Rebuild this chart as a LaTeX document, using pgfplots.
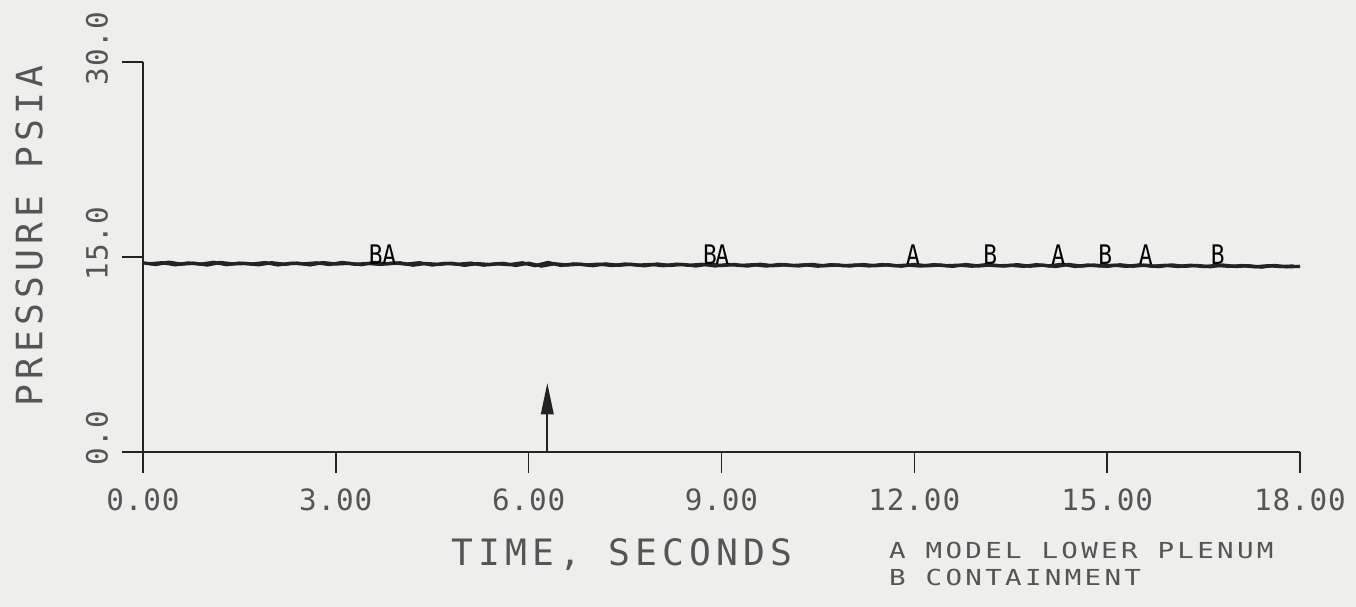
\documentclass[border=0pt]{standalone}
\usepackage{fontspec}
\usepackage{pgfplots}
\pgfplotsset{compat=1.18}
\usetikzlibrary{arrows.meta}
\newfontfamily\monofont[LetterSpace=3]{DejaVu Sans Mono}
\newfontfamily\curvefont[FakeStretch=0.85]{DejaVu Sans Mono}
\newfontfamily\labfont[LetterSpace=14]{DejaVu Sans Mono}
\newfontfamily\legfont[LetterSpace=15, FakeStretch=1.25]{DejaVu Sans Mono}
\definecolor{paper}{RGB}{238,238,236}
\definecolor{ink}{RGB}{35,35,35}
\definecolor{txt}{RGB}{85,85,85}

\begin{document}
\begin{tikzpicture}
% paper background, fixes the picture size (1px = 0.015cm)
\path[fill=paper, use as bounding box] (-2.145,-2.325) rectangle (18.195,6.78);
\begin{axis}[
  at={(0,0)}, anchor=south west,
  scale only axis, width=17.355cm, height=5.85cm,
  xmin=0, xmax=18, ymin=0, ymax=30,
  axis lines*=left, axis line style={ink, line width=0.7pt},
  tick style={ink, line width=0.7pt}, tick align=outside, major tick length=0.31cm,
  xtick={0,3,6,9,12,15,18}, ytick={0,15,30},
  /pgf/number format/assume math mode=true,
  xticklabel style={/pgf/number format/fixed, /pgf/number format/fixed zerofill,
    /pgf/number format/precision=2, anchor=north, yshift=-0.12cm},
  yticklabel style={/pgf/number format/fixed, /pgf/number format/fixed zerofill,
    /pgf/number format/precision=1, rotate=90, anchor=south, xshift=0.2cm, yshift=0.09cm},
  tick label style={font=\monofont\fontsize{12.5}{15}\selectfont, text=txt},
  clip=false,
]
% model lower plenum
\addplot[ink, line width=1.4pt] coordinates {
(0.0,14.55)(0.2,14.42)(0.4,14.60)(0.6,14.45)(0.8,14.52)(1.0,14.38)(1.2,14.58)(1.4,14.47)(1.6,14.50)(1.8,14.40)
(2.0,14.56)(2.2,14.44)(2.4,14.53)(2.6,14.39)(2.8,14.57)(3.0,14.46)(3.2,14.51)(3.4,14.41)(3.6,14.58)(3.8,14.47)
(4.0,14.55)(4.2,14.37)(4.4,14.50)(4.6,14.43)(4.8,14.52)(5.0,14.36)(5.2,14.49)(5.4,14.42)(5.6,14.51)(5.8,14.35)
(6.0,14.52)(6.2,14.30)(6.4,14.48)(6.6,14.38)(6.8,14.45)(7.0,14.33)(7.2,14.47)(7.4,14.36)(7.6,14.44)(7.8,14.32)
(8.0,14.46)(8.2,14.35)(8.4,14.43)(8.6,14.31)(8.8,14.45)(9.0,14.34)(9.2,14.42)(9.4,14.30)(9.6,14.44)(9.8,14.33)
(10.0,14.40)(10.2,14.31)(10.4,14.43)(10.6,14.32)(10.8,14.39)(11.0,14.30)(11.2,14.42)(11.4,14.33)(11.6,14.40)(11.8,14.29)
(12.0,14.43)(12.2,14.32)(12.4,14.38)(12.6,14.28)(12.8,14.42)(13.0,14.31)(13.2,14.39)(13.4,14.30)(13.6,14.41)(13.8,14.29)
(14.0,14.37)(14.2,14.27)(14.4,14.42)(14.6,14.30)(14.8,14.38)(15.0,14.28)(15.2,14.40)(15.4,14.29)(15.6,14.37)(15.8,14.26)
(16.0,14.39)(16.2,14.28)(16.4,14.35)(16.6,14.25)(16.8,14.38)(17.0,14.27)(17.2,14.33)(17.4,14.22)(17.6,14.35)(17.8,14.24)
(18.0,14.28)};
% containment
\addplot[ink, line width=1.4pt] coordinates {
(0.1,14.48)(0.3,14.56)(0.5,14.40)(0.7,14.54)(0.9,14.45)(1.1,14.59)(1.3,14.41)(1.5,14.53)(1.7,14.46)(1.9,14.57)
(2.1,14.39)(2.3,14.52)(2.5,14.47)(2.7,14.55)(2.9,14.42)(3.1,14.58)(3.3,14.44)(3.5,14.50)(3.7,14.43)(3.9,14.54)
(4.1,14.45)(4.3,14.56)(4.5,14.38)(4.7,14.51)(4.9,14.44)(5.1,14.53)(5.3,14.37)(5.5,14.48)(5.7,14.41)(5.9,14.55)
(6.1,14.33)(6.3,14.58)(6.5,14.35)(6.7,14.47)(6.9,14.39)(7.1,14.45)(7.3,14.34)(7.5,14.46)(7.7,14.37)(7.9,14.43)
(8.1,14.33)(8.3,14.45)(8.5,14.36)(8.7,14.44)(8.9,14.31)(9.1,14.42)(9.3,14.35)(9.5,14.41)(9.7,14.30)(9.9,14.43)
(10.1,14.34)(10.3,14.40)(10.5,14.29)(10.7,14.41)(10.9,14.33)(11.1,14.39)(11.3,14.31)(11.5,14.42)(11.7,14.32)(11.9,14.38)
(12.1,14.30)(12.3,14.41)(12.5,14.33)(12.7,14.37)(12.9,14.29)(13.1,14.40)(13.3,14.32)(13.5,14.36)(13.7,14.28)(13.9,14.41)
(14.1,14.31)(14.3,14.45)(14.5,14.27)(14.7,14.38)(14.9,14.30)(15.1,14.37)(15.3,14.28)(15.5,14.39)(15.7,14.29)(15.9,14.36)
(16.1,14.27)(16.3,14.37)(16.5,14.26)(16.7,14.35)(16.9,14.28)(17.1,14.34)(17.3,14.24)(17.5,14.33)(17.7,14.26)(17.9,14.31)};
% curve identifiers
\addplot[only marks, mark=text, mark options={ink},
  text mark={\curvefont\fontsize{11.5}{13}\selectfont A}]
  coordinates {(3.83,15.15)(9.01,15.15)(11.98,15.15)(14.24,15.15)(15.60,15.15)};
\addplot[only marks, mark=text, mark options={ink},
  text mark={\curvefont\fontsize{11.5}{13}\selectfont B}]
  coordinates {(3.62,15.15)(8.82,15.15)(13.18,15.15)(14.97,15.15)(16.72,15.15)};
% event arrow
\addplot[ink, line width=0.7pt, -{Triangle[length=0.47cm, width=0.19cm]}]
  coordinates {(6.29,0)(6.29,5.3)};
% labels
\node[rotate=90, text=txt, font=\labfont\fontsize{15.5}{18}\selectfont]
  at (axis cs:-1.77,16.6) {PRESSURE PSIA};
\node[text=txt, font=\labfont\fontsize{15.5}{18}\selectfont]
  at (axis cs:7.45,-7.92) {TIME, SECONDS};
\node[anchor=west, text=txt, font=\legfont\fontsize{9.4}{11}\selectfont]
  at (axis cs:11.48,-7.54) {A MODEL LOWER PLENUM};
\node[anchor=west, text=txt, font=\legfont\fontsize{9.4}{11}\selectfont]
  at (axis cs:11.48,-9.69) {B CONTAINMENT};
\end{axis}
\end{tikzpicture}
\end{document}
